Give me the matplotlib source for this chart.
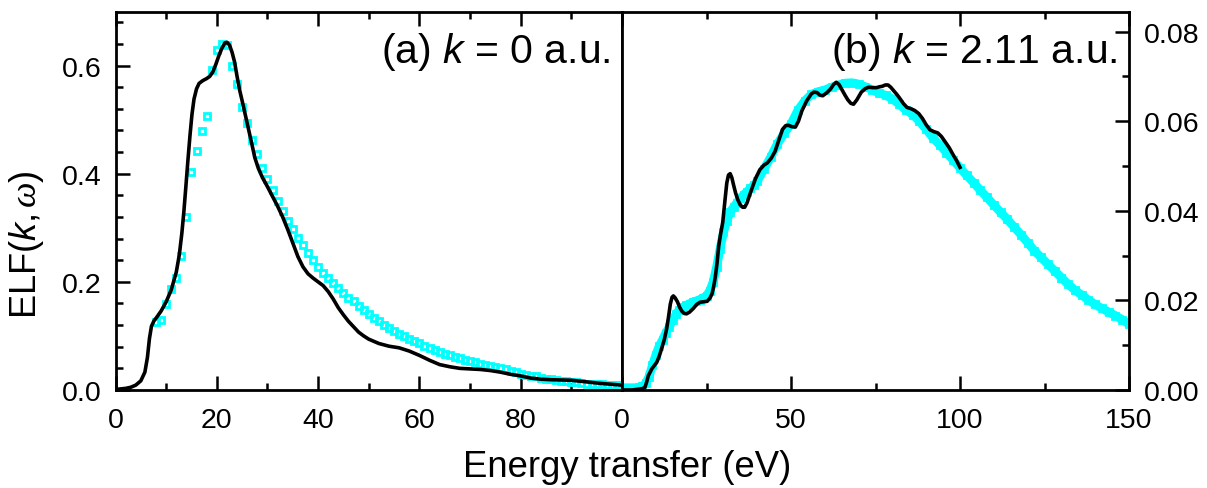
import matplotlib
matplotlib.use("Agg")
import matplotlib.pyplot as plt
from matplotlib.ticker import MultipleLocator, FixedLocator, FormatStrFormatter

plt.rcParams['font.family'] = ['Liberation Sans', 'DejaVu Sans']
plt.rcParams['mathtext.fontset'] = 'custom'
plt.rcParams['mathtext.it'] = 'Liberation Sans:italic'
plt.rcParams['mathtext.rm'] = 'Liberation Serif:italic'

# ---------------- data: panel (a), k = 0 a.u. ----------------
a_sq_E = list(range(8, 101))
a_sq_v = [0.125, 0.130, 0.159, 0.186, 0.208, 0.248, 0.320, 0.403, 0.442, 0.479,
          0.507, 0.591, 0.628, 0.640, 0.638, 0.599, 0.565, 0.524, 0.493, 0.463,
          0.436, 0.411, 0.390, 0.370, 0.350, 0.331,
          0.312, 0.297, 0.282, 0.268, 0.254, 0.240, 0.227, 0.216, 0.207, 0.198,
          0.189, 0.180, 0.171, 0.164, 0.156, 0.148, 0.141, 0.134, 0.127, 0.121,
          0.115, 0.109, 0.104, 0.099, 0.095, 0.090, 0.086, 0.082, 0.078, 0.074,
          0.071, 0.067, 0.064, 0.061, 0.059, 0.056, 0.054, 0.052, 0.049, 0.047,
          0.045, 0.043, 0.040, 0.038, 0.035, 0.033, 0.030, 0.028, 0.026, 0.025,
          0.023, 0.021, 0.020, 0.019, 0.017, 0.016, 0.015, 0.014, 0.013, 0.012,
          0.012, 0.011, 0.011, 0.010, 0.010, 0.009, 0.009]

a_line_E = [0, 2, 3, 4, 5, 5.8, 6.3, 6.7, 7.1, 7.6, 8.1, 9, 10, 11, 12, 12.6, 13.1,
            13.5, 13.9, 14.3, 14.7, 15.1, 15.5, 16, 16.5, 17.2, 18, 18.6, 19.2, 19.8,
            20.4, 21, 21.6, 22, 22.5, 23, 23.5, 24, 24.5, 25, 25.6, 26.2, 26.8, 27.5,
            28.2, 29, 30, 31, 32, 33, 34, 35, 36, 37, 38, 39, 40, 41, 42, 43, 44, 45,
            46, 47, 48, 49, 50, 52, 54, 56, 58, 60, 62, 64, 66, 68, 70, 72, 74, 76,
            78, 80, 82, 84, 86, 88, 90, 92, 94, 96, 98, 100]
a_line_v = [0.001, 0.003, 0.005, 0.009, 0.017, 0.033, 0.060, 0.095, 0.118, 0.128,
            0.134, 0.146, 0.163, 0.185, 0.218, 0.250, 0.290, 0.330, 0.377, 0.425,
            0.470, 0.510, 0.538, 0.557, 0.567, 0.572, 0.576, 0.580, 0.588, 0.602,
            0.618, 0.632, 0.642, 0.643, 0.638, 0.625, 0.607, 0.580, 0.555, 0.535,
            0.510, 0.485, 0.460, 0.430, 0.410, 0.393, 0.376, 0.358, 0.340, 0.320,
            0.297, 0.272, 0.247, 0.228, 0.215, 0.207, 0.200, 0.193, 0.182, 0.168,
            0.152, 0.139, 0.127, 0.117, 0.107, 0.100, 0.094, 0.086, 0.081, 0.078,
            0.072, 0.064, 0.055, 0.047, 0.043, 0.040, 0.039, 0.038, 0.036, 0.033,
            0.029, 0.026, 0.022, 0.020, 0.019, 0.0185, 0.018, 0.016, 0.014, 0.012,
            0.0105, 0.009]

# ---------------- data: panel (b), k = 2.11 a.u. ----------------
b_sq_E = list(range(0, 41)) + list(range(42, 151, 2))
b_sq_v = [0.0005, 0.0005, 0.0005, 0.0005, 0.0005, 0.0006, 0.0008, 0.0015, 0.0030,
          0.0055, 0.0078, 0.0098, 0.0112, 0.0128, 0.0141, 0.0156, 0.0170, 0.0179,
          0.0185, 0.0189, 0.0193, 0.0196, 0.0199, 0.0202, 0.0206, 0.0210, 0.0222,
          0.0242, 0.0275, 0.0315, 0.0352, 0.0378, 0.0397, 0.0408, 0.0418, 0.0428,
          0.0436, 0.0443, 0.0450, 0.0457, 0.0466,
          0.0493, 0.0520, 0.0550, 0.0573, 0.0594, 0.0624, 0.0645, 0.0660, 0.0666,
          0.0670, 0.0676, 0.0681, 0.0685, 0.0686, 0.0683, 0.0677, 0.0670, 0.0663,
          0.0658, 0.0650, 0.0638, 0.0625, 0.0615, 0.0600, 0.0582, 0.0563, 0.0547,
          0.0530, 0.0513, 0.0496, 0.0479, 0.0463, 0.0446, 0.0430, 0.0413, 0.0397,
          0.0381, 0.0364, 0.0347, 0.0329, 0.0311, 0.0296, 0.0281, 0.0266, 0.0251,
          0.0236, 0.0223, 0.0212, 0.0201, 0.0191, 0.0182, 0.0174, 0.0166, 0.0157,
          0.0147]

b_line_E = [0, 3, 6, 6.8, 7.3, 7.8, 8.8, 10.3, 11, 11.7, 12.5, 13.2, 13.8, 14.3, 14.8,
            15.2, 15.7, 16.4, 17.1, 17.7, 18.4, 19.1, 20, 21.1, 22.1, 23.1, 24.2, 25.2,
            26, 26.6, 27.1, 27.6, 28.1, 28.6, 29.1, 29.8, 30.5, 31.0, 31.5, 32.0, 32.5,
            33.0, 33.6, 34.3, 35.0, 35.7, 36.3, 37.0, 37.8, 38.5, 39.5, 40.8, 42, 43,
            44.2, 45.3, 46.4, 47.5, 48.4, 49.2, 50.2, 51.3, 52.2, 53.2, 54.6, 56.0,
            56.8, 57.7, 58.6, 59.4, 60.5, 61.7, 62.6, 63.4, 64.2, 65.1, 66.0, 66.8,
            67.7, 68.5, 69.5, 70.8, 72, 73.0, 74.2, 75.3, 76.2, 77.0, 77.9, 78.7, 79.5,
            80.4, 81.3, 82.1, 83.2, 84.3, 85.5, 86.6, 87.8, 88.9, 90.0, 91.1, 92.2,
            93.4, 94.5, 95.7, 96.8, 97.9, 99.0, 100]
b_line_v = [0.0, 0.0, 0.0003, 0.0006, 0.0018, 0.0032, 0.0047, 0.0062, 0.0075, 0.0092,
            0.0112, 0.0136, 0.0165, 0.0192, 0.0207, 0.0210, 0.0206, 0.0197, 0.0184,
            0.0176, 0.0171, 0.0170, 0.0174, 0.0182, 0.0191, 0.0196, 0.0197, 0.0198,
            0.0205, 0.0214, 0.0230, 0.0252, 0.0282, 0.0320, 0.0345, 0.0374, 0.0426,
            0.0462, 0.0480, 0.0483, 0.0474, 0.0458, 0.0440, 0.0424, 0.0413, 0.0408,
            0.0408, 0.0418, 0.0436, 0.0451, 0.0472, 0.0492, 0.0502, 0.0507, 0.0518,
            0.0533, 0.0558, 0.0582, 0.0590, 0.0591, 0.0588, 0.0587, 0.0600, 0.0623,
            0.0645, 0.0661, 0.0665, 0.0664, 0.0658, 0.0657, 0.0663, 0.0672, 0.0682,
            0.0687, 0.0682, 0.0670, 0.0658, 0.0648, 0.0640, 0.0638, 0.0648, 0.0665,
            0.0673, 0.0676, 0.0675, 0.0675, 0.0677, 0.0678, 0.0681, 0.0681, 0.0676,
            0.0668, 0.0660, 0.0652, 0.0640, 0.0631, 0.0628, 0.0624, 0.0617, 0.0606,
            0.0592, 0.0581, 0.0577, 0.0574, 0.0566, 0.0553, 0.0541, 0.0526, 0.0512,
            0.0497]

a_xticks = [0, 20, 40, 60, 80]
b_xticks = [0, 50, 100, 150]
a_yticks = [0.0, 0.2, 0.4, 0.6]
b_yticks = [0.00, 0.02, 0.04, 0.06, 0.08]
label_a = r'(a) $k$ = 0 a.u.'
label_b = r'(b) $k$ = 2.11 a.u.'
xlabel = 'Energy transfer (eV)'
ylabel = r'ELF($k$,$\,\mathrm{\omega}$)'

CYAN = '#00FFFF'
W, H = 1207, 489
fig = plt.figure(figsize=(W / 100, H / 100), dpi=100)
bottom = 1 - 391 / H
height = (391 - 12.5) / H
ax1 = fig.add_axes([115.5 / W, bottom, (622 - 115.5) / W, height])
ax2 = fig.add_axes([622 / W, bottom, (1129 - 622) / W, height])

TICK_FS = 20.5
for ax in (ax1, ax2):
    for s in ax.spines.values():
        s.set_linewidth(2.0)
    ax.tick_params(which='major', direction='in', length=10, width=1.8, labelsize=TICK_FS)
    ax.tick_params(which='minor', direction='in', length=5.3, width=1.8)

# panel (a)
ax1.plot(a_sq_E, a_sq_v, linestyle='none', marker='s', ms=4.8, mew=2.0,
         mfc='none', mec=CYAN, zorder=2)
ax1.plot(a_line_E, a_line_v, color='black', lw=2.6, zorder=3)
ax1.set_xlim(0, 100)
ax1.set_ylim(0, 0.70)
ax1.xaxis.set_major_locator(FixedLocator(a_xticks))
ax1.xaxis.set_minor_locator(FixedLocator([10, 30, 50, 70, 90]))
ax1.yaxis.set_major_locator(FixedLocator(a_yticks))
ax1.yaxis.set_minor_locator(MultipleLocator(0.04))
ax1.yaxis.set_major_formatter(FormatStrFormatter('%.1f'))
ax1.tick_params(axis='x', which='both', top=True, bottom=True)
ax1.tick_params(axis='x', which='major', pad=12)
ax1.tick_params(axis='y', which='both', left=True, right=False)
ax1.tick_params(axis='y', which='major', pad=10)
ax1.text(0.977, 0.866, label_a, transform=ax1.transAxes, ha='right',
         va='baseline', fontsize=29.5)

# panel (b)
ax2.plot(b_sq_E, b_sq_v, color=CYAN, lw=6.3, solid_capstyle='butt',
         marker='s', ms=4.8, mew=2.0, mfc='none', mec=CYAN, zorder=2)
ax2.plot(b_line_E, b_line_v, color='black', lw=2.6, zorder=3)
ax2.set_xlim(0, 150)
ax2.set_ylim(0, 0.0845)
ax2.xaxis.set_major_locator(FixedLocator(b_xticks))
ax2.xaxis.set_minor_locator(FixedLocator([25, 75, 125]))
ax2.yaxis.set_major_locator(FixedLocator(b_yticks))
ax2.yaxis.set_minor_locator(MultipleLocator(0.01))
ax2.yaxis.set_major_formatter(FormatStrFormatter('%.2f'))
ax2.yaxis.tick_right()
ax2.tick_params(axis='x', which='both', top=True, bottom=True)
ax2.tick_params(axis='x', which='major', pad=12)
ax2.tick_params(axis='y', which='both', left=False, right=True)
ax2.tick_params(axis='y', which='major', pad=11)
ax2.text(0.977, 0.866, label_b, transform=ax2.transAxes, ha='right',
         va='baseline', fontsize=29.5)

fig.text(627 / W, 1 - 477 / H, xlabel, ha='center', va='baseline', fontsize=26.3)
fig.text(27 / W, 0.5, ylabel, ha='center', va='center', rotation=90, fontsize=26)

fig.savefig('out.png', dpi=100)
